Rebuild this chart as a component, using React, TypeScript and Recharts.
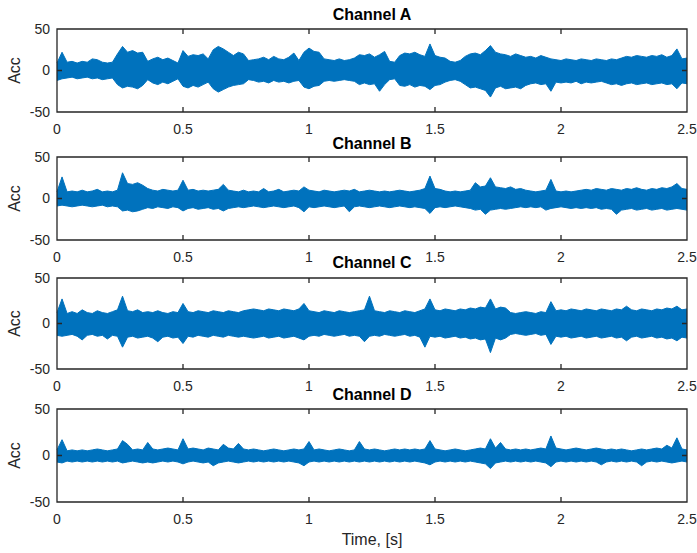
import React from 'react';
import { AreaChart, Area, XAxis, YAxis } from 'recharts';

// sampling step of the envelope readings (seconds)
const TIME_STEP = 0.02;
const X_TICKS = [0, 0.5, 1, 1.5, 2, 2.5];
const Y_TICKS = [-50, 0, 50];
const X_DOMAIN = [0, 2.5];
const Y_DOMAIN = [-50, 50];
const CHANNEL_NAMES = ['Channel A', 'Channel B', 'Channel C', 'Channel D'];

// Envelopes (upper / lower peaks), one value each 0.02 s
const chA_upper = [9,22,10,11,9,11,10,14,13,10,9,10,20,29,22,24,21,22,11,14,16,13,15,12,9,24,17,19,18,20,14,25,29,26,22,18,22,20,12,13,14,16,13,17,14,13,16,21,12,22,27,23,22,14,13,12,14,12,13,15,19,18,20,16,19,23,11,10,18,21,20,22,19,17,32,18,16,15,11,10,12,17,20,21,19,24,30,22,20,19,17,20,18,16,17,15,18,16,14,13,12,14,13,12,14,13,12,14,13,12,14,13,15,17,16,18,17,16,18,17,19,16,18,26,14,15];
const chA_lower = [-12,-10,-9,-8,-10,-9,-8,-10,-9,-11,-10,-9,-17,-21,-19,-20,-22,-18,-11,-15,-17,-14,-16,-13,-10,-19,-21,-18,-20,-17,-14,-22,-26,-23,-20,-18,-17,-16,-11,-12,-14,-13,-15,-12,-14,-13,-15,-13,-12,-20,-22,-19,-18,-13,-12,-13,-12,-11,-12,-13,-17,-15,-17,-16,-25,-17,-11,-10,-18,-19,-17,-20,-18,-19,-23,-18,-17,-14,-12,-11,-13,-17,-21,-20,-22,-24,-32,-21,-19,-22,-21,-20,-22,-18,-16,-15,-17,-16,-25,-14,-15,-14,-15,-13,-16,-14,-15,-14,-13,-15,-17,-16,-18,-16,-15,-17,-16,-15,-17,-16,-15,-17,-16,-22,-15,-16];

const chB_upper = [8,26,8,9,8,10,8,9,11,8,9,8,10,31,18,17,19,16,12,10,9,11,10,9,10,22,10,11,9,10,9,10,11,17,10,9,8,10,8,9,8,12,8,9,11,8,9,10,9,14,10,9,8,10,9,8,9,10,9,11,8,9,10,9,8,9,8,9,10,9,8,9,10,12,27,12,11,9,8,9,8,9,10,19,14,15,25,14,13,12,14,11,12,10,9,8,9,10,23,9,8,9,8,9,10,11,10,12,11,10,12,11,10,12,11,13,11,10,12,11,13,12,14,18,12,11];
const chB_lower = [-9,-8,-9,-10,-9,-8,-9,-10,-9,-8,-10,-9,-10,-15,-14,-16,-15,-13,-11,-12,-10,-11,-12,-10,-11,-15,-12,-11,-13,-12,-11,-13,-12,-15,-12,-11,-10,-11,-10,-9,-10,-11,-10,-9,-10,-11,-10,-9,-11,-16,-10,-11,-10,-9,-10,-11,-10,-9,-16,-10,-9,-10,-11,-10,-9,-10,-11,-10,-9,-10,-11,-10,-11,-12,-18,-11,-10,-11,-10,-9,-10,-11,-12,-14,-13,-19,-14,-13,-12,-13,-12,-11,-10,-11,-10,-11,-10,-14,-12,-11,-10,-11,-12,-11,-12,-11,-12,-11,-13,-12,-13,-19,-14,-13,-12,-14,-13,-12,-14,-13,-12,-14,-13,-12,-13,-14];

const chC_upper = [12,27,11,13,11,15,12,11,14,12,11,13,15,30,14,13,15,12,13,12,14,12,11,13,12,22,13,12,14,13,12,14,13,12,14,13,12,14,15,16,15,14,16,15,14,16,15,14,16,22,14,13,12,14,13,12,14,13,12,13,14,15,30,14,13,12,14,13,12,14,13,12,14,16,27,15,14,16,15,14,16,15,17,16,18,17,27,16,18,17,12,11,12,13,12,11,13,12,24,14,15,14,16,15,14,16,15,14,16,15,14,16,15,19,15,14,16,15,14,16,15,17,16,19,15,16];
const chC_lower = [-13,-14,-13,-12,-14,-18,-13,-12,-14,-13,-17,-13,-14,-26,-15,-14,-16,-15,-14,-16,-20,-15,-14,-16,-15,-22,-14,-15,-13,-14,-15,-13,-14,-15,-13,-14,-15,-14,-15,-16,-15,-14,-16,-15,-14,-16,-15,-14,-16,-18,-14,-13,-14,-12,-13,-14,-13,-12,-14,-13,-14,-20,-14,-13,-14,-12,-13,-14,-13,-12,-14,-13,-15,-26,-14,-15,-14,-16,-15,-14,-16,-15,-17,-16,-18,-17,-32,-16,-18,-16,-12,-11,-12,-13,-12,-11,-13,-12,-23,-14,-15,-14,-16,-15,-14,-16,-15,-14,-16,-15,-14,-16,-15,-19,-15,-14,-16,-15,-14,-16,-15,-17,-16,-19,-15,-16];

const chD_upper = [6,17,5,6,5,6,5,6,7,6,5,6,7,16,12,6,7,6,14,7,6,7,8,7,6,18,7,8,7,6,8,7,6,12,8,7,13,7,6,7,6,5,6,7,6,5,6,7,6,7,15,6,7,6,5,6,7,6,5,6,15,7,6,7,6,5,6,7,6,7,6,7,6,7,16,7,6,5,6,7,6,5,6,7,8,7,18,8,14,7,6,7,6,7,6,7,8,7,21,8,7,6,7,8,7,6,7,8,7,6,7,6,7,6,5,6,7,6,7,8,7,11,8,19,7,6];
const chD_lower = [-7,-8,-6,-7,-6,-7,-6,-7,-6,-7,-6,-7,-6,-8,-7,-6,-7,-8,-7,-8,-7,-6,-7,-6,-7,-9,-7,-6,-7,-8,-7,-11,-8,-7,-6,-7,-8,-7,-6,-7,-6,-7,-6,-7,-6,-7,-6,-7,-8,-11,-7,-6,-7,-6,-7,-6,-7,-6,-7,-6,-7,-6,-7,-6,-7,-6,-7,-6,-7,-6,-7,-6,-7,-8,-10,-7,-6,-7,-6,-7,-6,-7,-6,-7,-8,-9,-14,-8,-7,-6,-7,-6,-7,-6,-7,-6,-7,-8,-12,-7,-6,-7,-6,-7,-6,-7,-6,-7,-10,-7,-6,-7,-6,-7,-6,-7,-11,-7,-6,-7,-6,-7,-8,-7,-6,-7];

const BLUE = '#0072BD';
const AXIS = '#262626';
const FONT = '"Liberation Sans", Arial, Helvetica, sans-serif';

function buildRows(upper: number[], lower: number[]) {
  return upper.map((hi, i) => ({
    t: Math.round(i * TIME_STEP * 100) / 100,
    range: [lower[i], hi],
  }));
}

const CHANNELS = [
  { name: CHANNEL_NAMES[0], rows: buildRows(chA_upper, chA_lower), top: 29, bottom: 112, titleY: 20 },
  { name: CHANNEL_NAMES[1], rows: buildRows(chB_upper, chB_lower), top: 157, bottom: 240, titleY: 149 },
  { name: CHANNEL_NAMES[2], rows: buildRows(chC_upper, chC_lower), top: 278, bottom: 369, titleY: 268 },
  { name: CHANNEL_NAMES[3], rows: buildRows(chD_upper, chD_lower), top: 409, bottom: 502, titleY: 400 },
];

const W = 697;
const PLOT_LEFT = 57;
const PLOT_RIGHT = 687;
const PAD = 40;
const TICK_LEN = 5;

function ChannelPlot({ rows, top, bottom }: { rows: any[]; top: number; bottom: number }) {
  const plotH = bottom - top;
  const H = plotH + PAD * 2;
  return (
    <div style={{ position: 'absolute', left: 0, top: top - PAD, width: W, height: H }}>
      <AreaChart
        width={W}
        height={H}
        data={rows}
        margin={{ top: PAD, right: W - PLOT_RIGHT, bottom: PAD - 25, left: PLOT_LEFT - 40 }}
      >
        <XAxis
          dataKey="t"
          type="number"
          domain={X_DOMAIN}
          ticks={X_TICKS}
          interval={0}
          height={25}
          tickSize={0}
          tickMargin={12}
          axisLine={false}
          tickLine={false}
          tick={{ fill: AXIS, fontSize: 14, fontFamily: FONT }}
        />
        <YAxis
          type="number"
          domain={Y_DOMAIN}
          ticks={Y_TICKS}
          interval={0}
          width={40}
          tickSize={0}
          tickMargin={7}
          axisLine={false}
          tickLine={false}
          tick={{ fill: AXIS, fontSize: 14, fontFamily: FONT }}
        />
        <Area
          dataKey="range"
          type="linear"
          stroke={BLUE}
          strokeWidth={1}
          fill={BLUE}
          fillOpacity={1}
          isAnimationActive={false}
          dot={false}
          activeDot={false}
        />
      </AreaChart>
    </div>
  );
}

// axes box + inward ticks (layout only), positioned from the tick values
function Frame({ top, bottom }: { top: number; bottom: number }) {
  const sx = (v: number) => PLOT_LEFT + ((v - X_DOMAIN[0]) / (X_DOMAIN[1] - X_DOMAIN[0])) * (PLOT_RIGHT - PLOT_LEFT);
  const sy = (v: number) => bottom - ((v - Y_DOMAIN[0]) / (Y_DOMAIN[1] - Y_DOMAIN[0])) * (bottom - top);
  let d = `M${PLOT_LEFT},${top}H${PLOT_RIGHT}V${bottom}H${PLOT_LEFT}Z`;
  X_TICKS.forEach((v) => {
    const x = sx(v);
    d += `M${x},${bottom}V${bottom - TICK_LEN}M${x},${top}V${top + TICK_LEN}`;
  });
  Y_TICKS.forEach((v) => {
    const y = sy(v);
    d += `M${PLOT_LEFT},${y}H${PLOT_LEFT + TICK_LEN}M${PLOT_RIGHT},${y}H${PLOT_RIGHT - TICK_LEN}`;
  });
  return <path d={d} fill="none" stroke={AXIS} strokeWidth={1.3} />;
}

export default function App() {
  const cx = (PLOT_LEFT + PLOT_RIGHT) / 2;
  return (
    <div style={{ position: 'absolute', left: 0, top: 0, width: W, height: 553, background: '#fff', fontFamily: FONT }}>
      {CHANNELS.map((c) => (
        <ChannelPlot key={c.name} rows={c.rows} top={c.top} bottom={c.bottom} />
      ))}
      <svg width={W} height={553} style={{ position: 'absolute', left: 0, top: 0, pointerEvents: 'none' }}>
        {CHANNELS.map((c) => {
          const my = (c.top + c.bottom) / 2;
          return (
            <g key={c.name}>
              <Frame top={c.top} bottom={c.bottom} />
              <text x={cx} y={c.titleY} textAnchor="middle" fontSize={16} fontWeight="bold" fill="#000" fontFamily={FONT}>
                {c.name}
              </text>
              <text
                x={20}
                y={my}
                textAnchor="middle"
                fontSize={16}
                fill={AXIS}
                fontFamily={FONT}
                transform={`rotate(-90 20 ${my})`}
              >
                Acc
              </text>
            </g>
          );
        })}
        <text x={cx} y={545} textAnchor="middle" fontSize={16} fill={AXIS} fontFamily={FONT}>
          Time, [s]
        </text>
      </svg>
    </div>
  );
}
